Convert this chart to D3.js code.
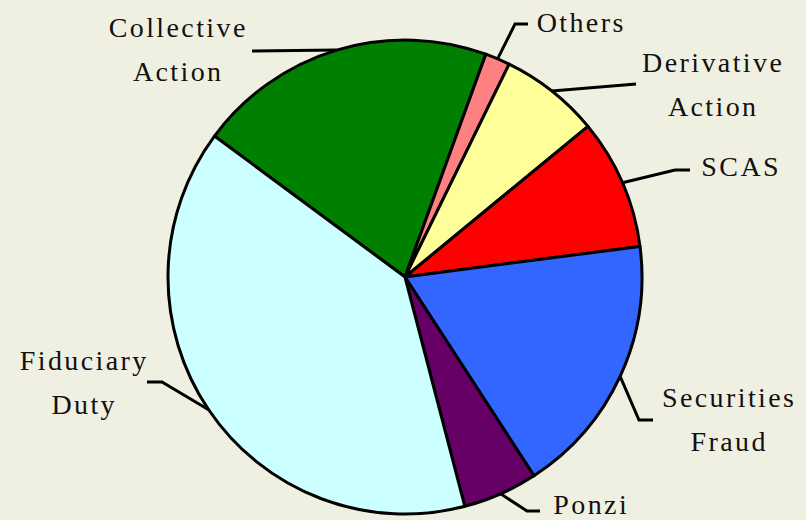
<!DOCTYPE html>
<meta charset="utf-8">
<style>
body { margin: 0; background: #f0f0e2; }
</style>
<body>
<script src="https://cdn.jsdelivr.net/npm/d3@7"></script>
<script>

// slices in clockwise order, starting from the Collective Action edge
var categories = ["Collective Action", "Others", "Derivative Action", "SCAS", "Securities Fraud", "Ponzi", "Fiduciary Duty"];
var values = [20.4, 1.7, 6.8, 8.9, 17.9, 5.1, 39.2];
var labelLines = [["Collective", "Action"], ["Others"], ["Derivative", "Action"], ["SCAS"], ["Securities", "Fraud"], ["Ponzi"], ["Fiduciary", "Duty"]];

var colors = ["#008000", "#ff8080", "#ffff99", "#ff0000", "#3366ff", "#660066", "#ccffff"];

// label layout: text centre x, first baseline y, and leader points (elbow, end)
var labelLayout = [
  {x: 177, y: 37, pts: [[252, 51]]},
  {x: 580, y: 32, pts: [[515, 24], [528, 24]]},
  {x: 712, y: 72, pts: [[636, 84]]},
  {x: 740, y: 176, pts: [[675, 170], [690, 170]]},
  {x: 728, y: 407, pts: [[639, 420], [653, 420]]},
  {x: 590, y: 514, pts: [[527, 511], [540, 511]]},
  {x: 83, y: 370, pts: [[162, 382], [147, 382]]}
];

var width = 806, height = 520;
var cx = 405, cy = 277, radius = 237;

var svg = d3.select("body").append("svg")
    .attr("width", width)
    .attr("height", height);

var start = -53.5 * Math.PI / 180;

var pie = d3.pie()
    .sort(null)
    .startAngle(start)
    .endAngle(start + 2 * Math.PI);

var arcs = pie(values);

var arc = d3.arc().innerRadius(0).outerRadius(radius);
var edge = d3.arc().innerRadius(radius).outerRadius(radius);

var g = svg.append("g")
    .attr("transform", "translate(" + cx + "," + cy + ")");

g.selectAll(".slice")
    .data(arcs)
  .enter().append("path")
    .attr("class", "slice")
    .attr("d", arc)
    .attr("fill", function(d, i) { return colors[i]; })
    .attr("stroke", "#000")
    .attr("stroke-width", 3)
    .attr("stroke-linejoin", "round");

// leader lines
var line = d3.line();
svg.selectAll(".leader")
    .data(arcs)
  .enter().append("path")
    .attr("class", "leader")
    .attr("d", function(d, i) {
      var c = edge.centroid(d);
      var p = [[cx + c[0], cy + c[1]]].concat(labelLayout[i].pts);
      return line(p);
    })
    .attr("fill", "none")
    .attr("stroke", "#000")
    .attr("stroke-width", 3);

// labels
svg.selectAll(".label")
    .data(labelLines)
  .enter().append("text")
    .attr("class", "label")
    .attr("text-anchor", "middle")
    .style("font-family", "'Times New Roman', Tinos, serif")
    .attr("font-size", 28)
    .attr("letter-spacing", 2.4)
    .attr("fill", "#111")
    .attr("x", function(d, i) { return labelLayout[i].x; })
    .attr("y", function(d, i) { return labelLayout[i].y; })
    .each(function(d, i) {
      var t = d3.select(this);
      d.forEach(function(s, k) {
        t.append("tspan")
          .attr("x", labelLayout[i].x + 1.2)
          .attr("dy", k === 0 ? 0 : 44)
          .text(s);
      });
    });

</script>
</body>
